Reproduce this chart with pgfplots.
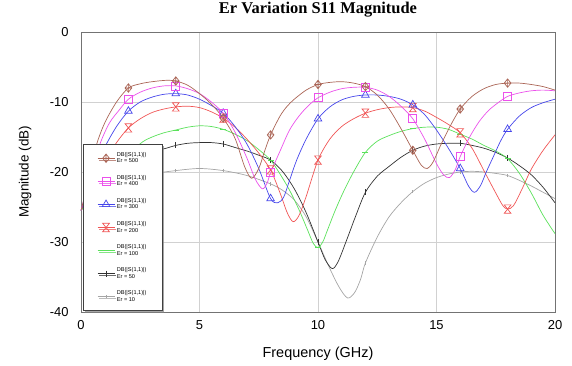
\documentclass[border=0pt]{standalone}
\usepackage{pgfplots}
\pgfplotsset{compat=1.18}
\usepackage{fontspec}
\setmainfont{Liberation Sans}
\newfontfamily\titlefont{Liberation Serif}
\usetikzlibrary{shadows}

\definecolor{c500}{RGB}{170,100,85}
\definecolor{c400}{RGB}{235,80,235}
\definecolor{c300}{RGB}{70,70,235}
\definecolor{c200}{RGB}{240,85,85}
\definecolor{c100}{RGB}{90,225,90}
\definecolor{c50}{RGB}{50,50,50}
\definecolor{c10}{RGB}{165,165,165}

% diamond with a cross inside
\pgfdeclareplotmark{dplus}{%
  \pgfpathmoveto{\pgfpoint{0pt}{\pgfplotmarksize}}%
  \pgfpathlineto{\pgfpoint{0.8\pgfplotmarksize}{0pt}}%
  \pgfpathlineto{\pgfpoint{0pt}{-\pgfplotmarksize}}%
  \pgfpathlineto{\pgfpoint{-0.8\pgfplotmarksize}{0pt}}%
  \pgfpathclose
  \pgfpathmoveto{\pgfpoint{0pt}{\pgfplotmarksize}}%
  \pgfpathlineto{\pgfpoint{0pt}{-\pgfplotmarksize}}%
  \pgfpathmoveto{\pgfpoint{-0.8\pgfplotmarksize}{0pt}}%
  \pgfpathlineto{\pgfpoint{0.8\pgfplotmarksize}{0pt}}%
  \pgfusepathqstroke}
% hourglass
\pgfdeclareplotmark{hglass}{%
  \pgfpathmoveto{\pgfpoint{-0.8\pgfplotmarksize}{\pgfplotmarksize}}%
  \pgfpathlineto{\pgfpoint{0.8\pgfplotmarksize}{\pgfplotmarksize}}%
  \pgfpathlineto{\pgfpoint{-0.8\pgfplotmarksize}{-\pgfplotmarksize}}%
  \pgfpathlineto{\pgfpoint{0.8\pgfplotmarksize}{-\pgfplotmarksize}}%
  \pgfpathclose
  \pgfusepathqstroke}

\pgfplotsset{
  s500/.style={c500, line width=0.7pt, mark=dplus, mark size=4.2bp},
  s400/.style={c400, line width=0.7pt, mark=square, mark size=4bp, mark options={draw=c400}},
  s300/.style={c300, line width=0.7pt, mark=triangle, mark size=4.4bp},
  s200/.style={c200, line width=0.7pt, mark=hglass, mark size=4.2bp},
  s100/.style={c100, line width=0.7pt, mark=-, mark size=3bp},
  s50/.style={c50, line width=0.7pt, mark=|, mark size=3bp},
  s10/.style={c10, line width=0.7pt, mark=|, mark size=1.6bp},
}

\begin{document}
\begin{tikzpicture}
\path[use as bounding box] (-81bp,-54bp) rectangle (491bp,312bp);
\begin{axis}[
  scale only axis, width=474bp, height=280bp,
  at={(0,0)}, anchor=south west,
  xmin=0, xmax=20, ymin=-40, ymax=0,
  xtick={0,5,10,15,20}, ytick={-40,-30,-20,-10,0},
  grid=major, grid style={black!18, line width=0.6pt},
  axis line style={black!55, line width=0.9pt},
  major tick length=0pt,
  /pgf/number format/assume math mode=true,
  tick label style={font=\fontsize{13}{15}\selectfont},
  yticklabel style={xshift=-9bp},
  xticklabel style={yshift=-5bp},
  title={\titlefont\bfseries Er Variation S11 Magnitude},
  title style={at={(axis description cs:0.5,1.057)}, anchor=center, font=\fontsize{16.5}{18}\selectfont},
  xlabel={Frequency (GHz)},
  xlabel style={at={(axis description cs:0.5,-0.15)}, anchor=center, font=\fontsize{14.5}{16}\selectfont},
  ylabel={Magnitude (dB)},
  ylabel style={at={(axis description cs:-0.118,0.5)}, anchor=center, rotate=0, font=\fontsize{13.5}{15}\selectfont},
  legend style={at={(axis cs:0.08,-16)}, anchor=north west,
    draw=black!75, line width=0.6pt, fill=white,
    font=\fontsize{5.6}{6.4}\selectfont,
    row sep=7.2bp, inner xsep=14bp, inner ysep=6bp,
    nodes={align=left},
    drop shadow={shadow xshift=1.8bp, shadow yshift=-1.8bp, opacity=0.7}},
  legend cell align=left,
]

% ---- Er = 10
\addplot[c10, line width=0.7pt, smooth, forget plot] coordinates {
(0,-25.5)(0.5,-24)(1,-23)(1.5,-22.1)(2,-21.4)(3,-20.3)(4,-19.8)(5,-19.5)(6,-19.8)
(7,-20.5)(8,-21.7)(8.5,-22.6)(9,-24)(9.5,-26.4)(10,-30)(10.5,-33.8)(10.9,-36.5)
(11.25,-38.0)(11.55,-37.2)(11.8,-35.3)(12,-33)(12.5,-29.3)(13,-26.4)(13.5,-24.4)
(14,-22.8)(14.5,-21.6)(15,-20.8)(15.5,-20.3)(16,-20.0)(16.5,-19.9)(17,-20.0)
(17.5,-20.2)(18,-20.5)(18.5,-21.2)(19,-22)(19.5,-22.9)(20,-23.8)};
\addplot[s10, only marks, forget plot] coordinates {
(2,-21.4)(4,-19.8)(6,-19.8)(8,-21.7)(10,-30)(12,-33)(14,-22.8)(16,-20.0)(18,-20.5)};

% ---- Er = 50
\addplot[c50, line width=0.7pt, smooth, forget plot] coordinates {
(0,-25.5)(0.5,-22.5)(1,-20.8)(1.5,-19.5)(2,-18.5)(2.5,-17.7)(3,-17.1)(3.6,-16.6)
(4,-16.2)(4.5,-15.9)(5,-15.8)(5.5,-15.8)(6,-16.0)(6.5,-16.5)(7,-17)(7.5,-17.6)
(8,-18.3)(8.5,-19.9)(9,-22.4)(9.5,-25.8)(10,-30)(10.3,-32.5)(10.6,-33.8)
(10.85,-32.8)(11.2,-29.8)(11.6,-26.2)(12,-22.9)(12.5,-20.6)(13,-19.2)(13.5,-17.9)
(14,-16.9)(14.5,-16.3)(15,-16.0)(15.5,-15.9)(16,-15.9)(16.5,-16.2)(17,-16.6)
(17.5,-17.2)(18,-18.0)(18.5,-19.1)(19,-20.4)(19.5,-22.2)(20,-24.4)};
\addplot[s50, only marks, forget plot] coordinates {
(2,-18.5)(4,-16.2)(6,-16.0)(8,-18.3)(10,-30)(12,-22.9)(14,-16.9)(16,-15.9)(18,-18.0)};

% ---- Er = 100
\addplot[c100, line width=0.7pt, smooth, forget plot] coordinates {
(0,-25.5)(0.5,-23)(1,-21)(1.5,-19)(2,-17.4)(2.6,-15.7)(3,-15)(3.5,-14.4)(4,-14)
(4.5,-13.6)(5,-13.4)(5.5,-13.5)(6,-13.9)(6.5,-14.6)(7,-15.5)(7.5,-16.8)(8,-18.3)
(8.4,-20.3)(8.8,-22.6)(9.2,-25.4)(9.55,-28.2)(9.8,-30.2)(10,-30.8)(10.2,-30)
(10.4,-28.3)(10.7,-25.7)(11.05,-23)(11.5,-20)(12,-17.2)(12.5,-15.6)(13,-14.8)
(13.5,-14.2)(14,-13.8)(14.5,-13.6)(15,-13.6)(15.5,-13.9)(16,-14.6)(16.5,-15.3)
(17,-16.2)(17.5,-17)(18,-18.1)(18.5,-20.2)(19,-23)(19.5,-26.2)(20,-28.8)};
\addplot[s100, only marks, forget plot] coordinates {
(2,-17.4)(4,-14.0)(6,-13.9)(8,-18.3)(10,-30.8)(12,-17.2)(14,-13.8)(16,-14.6)(18,-18.1)};

% ---- Er = 200
\addplot[c200, line width=0.7pt, smooth, forget plot] coordinates {
(0,-25.5)(0.5,-21.5)(1,-18.5)(1.5,-15.8)(2,-13.7)(2.5,-12.4)(3,-11.5)(3.5,-11)
(4,-10.7)(4.5,-10.6)(5,-10.8)(5.5,-11.4)(6,-12.3)(6.5,-13.6)(7,-15.3)(7.5,-17.3)
(8,-19.7)(8.4,-23)(8.7,-25.8)(8.95,-27.1)(9.2,-26.2)(9.5,-23.5)(10,-18.3)
(10.5,-15.3)(11,-13.5)(11.5,-12.4)(12,-11.6)(12.5,-11.1)(13,-10.8)(13.5,-10.7)
(14,-10.8)(14.5,-11.3)(15,-12.2)(15.5,-13.2)(16,-14.4)(16.5,-16.6)(17,-19.8)
(17.5,-23)(17.8,-24.8)(18,-25.3)(18.25,-24.8)(18.6,-22.5)(19,-19.6)(19.5,-16.9)(20,-14.7)};
\addplot[s200, only marks, forget plot] coordinates {
(2,-13.7)(4,-10.7)(6,-12.3)(8,-19.7)(10,-18.3)(12,-11.6)(14,-10.8)(16,-14.4)(18,-25.3)};

% ---- Er = 300
\addplot[c300, line width=0.7pt, smooth, forget plot] coordinates {
(0,-25.5)(0.5,-20.5)(1,-16.5)(1.5,-13.5)(2,-11.3)(2.5,-10)(3,-9.3)(3.5,-8.9)(4,-8.8)
(4.5,-9)(5,-9.6)(5.5,-10.5)(6,-11.6)(6.5,-13.5)(7,-16)(7.5,-19.5)(8,-23.8)(8.3,-24.4)
(8.55,-23.6)(8.8,-21.2)(9.1,-18.3)(9.5,-15.3)(10,-12.4)(10.5,-10.7)(11,-9.7)
(11.5,-9.2)(12,-9.0)(12.5,-9.0)(13,-9.2)(13.5,-9.6)(14,-10.4)(14.5,-11.8)(15,-14)
(15.5,-16.6)(16,-19.5)(16.35,-22)(16.6,-22.9)(16.85,-22)(17.1,-20)(17.4,-17.8)
(17.7,-15.6)(18,-13.9)(18.5,-12)(19,-10.8)(19.5,-10.1)(20,-9.6)};
\addplot[s300, only marks, forget plot] coordinates {
(2,-11.3)(4,-8.8)(6,-11.6)(8,-23.8)(10,-12.4)(12,-9.0)(14,-10.4)(16,-19.5)(18,-13.9)};

% ---- Er = 400
\addplot[c400, line width=0.7pt, smooth, forget plot] coordinates {
(0,-25.5)(0.4,-20.5)(0.8,-16)(1.2,-13)(1.6,-11.2)(2,-9.6)(2.5,-8.6)(3,-8.0)(3.5,-7.7)
(4,-7.7)(4.5,-8.1)(5,-8.8)(5.5,-10)(6,-11.6)(6.5,-14.3)(7,-18)(7.35,-21)(7.65,-22.4)
(7.85,-21.6)(8,-20.1)(8.4,-17)(8.8,-14)(9.2,-12)(9.6,-10.5)(10,-9.4)(10.5,-8.6)
(11,-8.1)(11.5,-7.9)(12,-7.9)(12.5,-8.3)(13,-9.2)(13.5,-10.6)(14,-12.4)(14.5,-15.3)
(15,-18.8)(15.3,-20.4)(15.55,-20.8)(15.8,-19.6)(16,-17.8)(16.4,-15)(16.8,-12.8)
(17.2,-11.2)(17.6,-10.1)(18,-9.2)(18.5,-8.7)(19,-8.4)(19.5,-8.3)(20,-8.4)};
\addplot[s400, only marks, forget plot] coordinates {
(2,-9.6)(4,-7.7)(6,-11.6)(8,-20.1)(10,-9.4)(12,-7.9)(14,-12.4)(16,-17.8)(18,-9.2)};

% ---- Er = 500
\addplot[c500, line width=0.7pt, smooth, forget plot] coordinates {
(0,-25.5)(0.3,-21.5)(0.63,-16.4)(1,-13)(1.5,-10)(2,-8.0)(2.5,-7.4)(3,-7.1)(3.6,-6.9)
(4,-7.0)(4.5,-7.6)(5,-8.8)(5.5,-10.3)(6,-12.3)(6.5,-15.2)(6.9,-19.2)(7.2,-20.9)
(7.5,-19.5)(7.75,-17)(8,-14.7)(8.4,-12)(8.7,-10.6)(9,-9.6)(9.5,-8.3)(10,-7.5)
(10.5,-7.2)(11,-7.1)(11.5,-7.3)(12,-7.8)(12.5,-9)(13,-11)(13.5,-13.8)(14,-16.9)
(14.35,-19)(14.6,-19.5)(14.85,-18.6)(15.2,-16)(15.6,-13.3)(16,-11.0)(16.5,-9.2)
(17,-8.1)(17.5,-7.5)(18,-7.3)(18.5,-7.3)(19,-7.5)(19.5,-7.8)(20,-8.3)};
\addplot[s500, only marks, forget plot] coordinates {
(2,-8.0)(4,-7.0)(6,-12.3)(8,-14.7)(10,-7.5)(12,-7.8)(14,-16.9)(16,-11.0)(18,-7.3)};

% legend
\addlegendimage{s500}\addlegendentry{DB(|S(1,1)|)\\Er = 500}
\addlegendimage{s400}\addlegendentry{DB(|S(1,1)|)\\Er = 400}
\addlegendimage{s300}\addlegendentry{DB(|S(1,1)|)\\Er = 300}
\addlegendimage{s200}\addlegendentry{DB(|S(1,1)|)\\Er = 200}
\addlegendimage{s100}\addlegendentry{DB(|S(1,1)|)\\Er = 100}
\addlegendimage{s50}\addlegendentry{DB(|S(1,1)|)\\Er = 50}
\addlegendimage{s10}\addlegendentry{DB(|S(1,1)|)\\Er = 10}
\end{axis}
\end{tikzpicture}
\end{document}
